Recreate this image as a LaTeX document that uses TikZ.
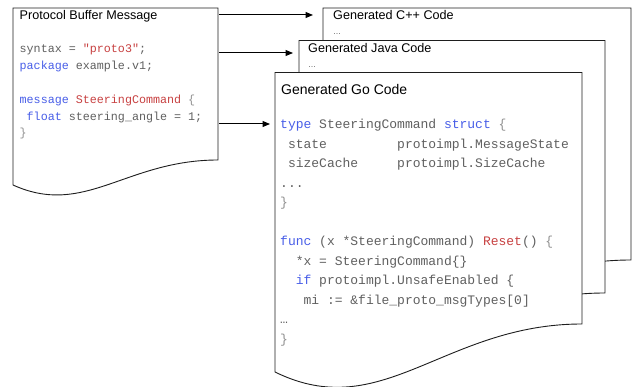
\documentclass[tikz,border=0pt]{standalone}
\usepackage{fontspec}
\setmainfont{Liberation Sans}
\setmonofont{Liberation Mono}
\usetikzlibrary{arrows.meta}

\definecolor{framecol}{RGB}{30,30,30}
\definecolor{codegray}{RGB}{96,96,96}
\definecolor{bracegray}{RGB}{145,145,145}
\definecolor{kwblue}{RGB}{72,94,232}
\definecolor{idred}{RGB}{200,66,66}

\newcommand{\kw}[1]{\textcolor{kwblue}{#1}}
\newcommand{\idn}[1]{\textcolor{idred}{#1}}
\newcommand{\brc}[1]{\textcolor{bracegray}{#1}}

\tikzset{
  docframe/.style={draw=framecol, line width=0.9pt, fill=white, line join=miter},
  doctitle/.style={anchor=base west, inner sep=0pt, text=black,
    font=\fontsize{12.6}{14}\selectfont},
  gotitle/.style={anchor=base west, inner sep=0pt, text=black,
    font=\fontsize{14}{16}\selectfont},
  moredots/.style={anchor=base west, inner sep=0pt, text=black!70,
    font=\fontsize{8}{9}\selectfont},
  pbcode/.style={anchor=base west, inner sep=0pt, text=codegray,
    font=\ttfamily\fontsize{11.7}{14}\selectfont},
  gocode/.style={anchor=base west, inner sep=0pt, text=codegray,
    font=\ttfamily\fontsize{13}{16}\selectfont},
  flow/.style={-{Triangle[length=7.5pt,width=6pt]}, line width=1pt, draw=black}
}

\begin{document}
\begin{tikzpicture}[x=1pt,y=-1pt]
\useasboundingbox (0,0) rectangle (632,387);

% source file
\draw[docframe] (13,8) -- (218,8) -- (218,160)
  .. controls (125.75,160) and (84.75,217.5) .. (13,185) -- cycle;

% generated files, back to front
\draw[docframe] (323,8) -- (631,8) -- (631,260)
  .. controls (492.4,260) and (430.8,354.5) .. (323,305) -- cycle;
\node[doctitle] (cpptitle) at (333,20) {Generated C++ Code};
\node[moredots] (cppdots) at (333,35) {…};

\draw[docframe] (299,40.5) -- (605,40.5) -- (605,293)
  .. controls (467.3,293) and (406.1,387.5) .. (299,338) -- cycle;
\node[doctitle] (javatitle) at (308,53) {Generated Java Code};
\node[moredots] (javadots) at (308,68) {…};

\draw[docframe] (275,72.5) -- (582,72.5) -- (582,324)
  .. controls (443.85,324) and (382.45,424.8) .. (275,372) -- cycle;

% arrow end points
\coordinate (pbA) at (219,15);
\coordinate (pbB) at (219,53);
\coordinate (pbC) at (219,124);
\coordinate (cppIn) at (313,15);
\coordinate (javaIn) at (293,53);
\coordinate (goIn) at (270,124);

\draw[flow] (pbA) -- (cppIn);
\draw[flow] (pbB) -- (javaIn);
\draw[flow] (pbC) -- (goIn);

% .proto source
\node[doctitle] (pbtitle) at (19.5,20) {Protocol Buffer Message};
\node[pbcode] (pb1) at (19.5,52.5) {syntax = \idn{"proto3"};};
\node[pbcode] (pb2) at (19.5,69.4) {\kw{package} example.v1;};
\node[pbcode] (pb4) at (19.5,103.2) {\kw{message} \idn{SteeringCommand} \brc{\{}};
\node[pbcode] (pb5) at (19.5,120.1) {~\kw{float} steering\_angle = 1;};
\node[pbcode] (pb6) at (19.5,137) {\brc{\}}};

% Go output
\node[gotitle] (gotitle) at (281,95) {Generated Go Code};
\node[gocode] (go1) at (280,129) {\kw{type} SteeringCommand \kw{struct} \brc{\{}};
\node[gocode] (go2) at (280,148.5) {~state~~~~~~~~~protoimpl.MessageState};
\node[gocode] (go3) at (280,168) {~sizeCache~~~~~protoimpl.SizeCache};
\node[gocode] (go4) at (280,187.5) {...};
\node[gocode] (go5) at (280,207) {\brc{\}}};
\node[gocode] (go7) at (280,246) {\kw{func} (x *SteeringCommand) \idn{Reset}() \brc{\{}};
\node[gocode] (go8) at (280,265.5) {~~*x = SteeringCommand\{\}};
\node[gocode] (go9) at (280,285) {~~\kw{if} protoimpl.UnsafeEnabled \{};
\node[gocode] (go10) at (280,304.5) {~~~mi := \&file\_proto\_msgTypes[0]};
\node[gocode] (go11) at (280,324) {…};
\node[gocode] (go12) at (280,343.5) {\brc{\}}};
\end{tikzpicture}
\end{document}
